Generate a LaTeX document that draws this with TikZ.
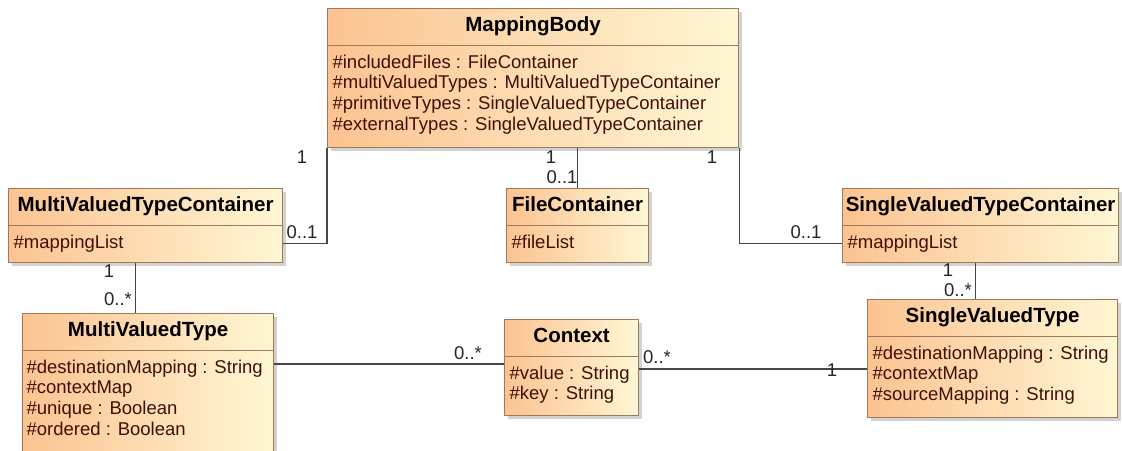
\documentclass[tikz,border=0pt]{standalone}
\usepackage{fontspec}
\setmainfont{Liberation Sans}
\usetikzlibrary{shadows,positioning}

\definecolor{clsorange}{RGB}{252,195,145}
\definecolor{clspale}{RGB}{255,247,212}
\definecolor{clsborder}{RGB}{160,120,90}
\definecolor{attrtext}{RGB}{64,16,8}
\definecolor{linkgray}{RGB}{70,70,70}

\begin{document}
\begin{tikzpicture}[x=1pt,y=-1pt,
  cls/.style={draw=clsborder,line width=1.2pt,left color=clsorange,right color=clspale,
    drop shadow={shadow xshift=3pt,shadow yshift=-3pt,opacity=0.35},anchor=north west,inner sep=0pt},
  ttl/.style={anchor=north,minimum height=37pt,inner sep=0pt,text height=14pt,text depth=4pt,
    font=\fontsize{20.5}{22}\selectfont\bfseries},
  att/.style={anchor=north west,inner sep=0pt,align=left,text=attrtext,
    font=\fontsize{18.5}{20.7}\selectfont},
  mult/.style={inner sep=0pt,text=black!85,font=\fontsize{18.5}{20.7}\selectfont},
  sep/.style={draw=clsborder,line width=1.2pt},
  link/.style={draw=linkgray,line width=1.3pt}]
\fill[white] (0,0) rectangle (1122,450);
\clip (0,0) rectangle (1122,450);
\useasboundingbox (0,0) rectangle (1122,450);

% classes
\node[cls,minimum width=411pt,minimum height=139pt] (MB) at (327,8) {};
\node[ttl,minimum width=411pt] (MBt) at (MB.north) {MappingBody};
\draw[sep] (MBt.south west) -- (MBt.south east);
\node[att] (MBa) at ([xshift=5pt,yshift=-9pt]MBt.south west) {\#includedFiles : FileContainer\\
  \#multiValuedTypes : MultiValuedTypeContainer\\
  \#primitiveTypes : SingleValuedTypeContainer\\
  \#externalTypes : SingleValuedTypeContainer};

\node[cls,minimum width=274pt,minimum height=74pt] (MVTC) at (8,188) {};
\node[ttl,minimum width=274pt] (MVTCt) at (MVTC.north) {MultiValuedTypeContainer};
\draw[sep] (MVTCt.south west) -- (MVTCt.south east);
\node[att] (MVTCa) at ([xshift=5pt,yshift=-9pt]MVTCt.south west) {\#mappingList};

\node[cls,minimum width=142pt,minimum height=74pt] (FC) at (506,188) {};
\node[ttl,minimum width=142pt] (FCt) at (FC.north) {FileContainer};
\draw[sep] (FCt.south west) -- (FCt.south east);
\node[att] (FCa) at ([xshift=5pt,yshift=-9pt]FCt.south west) {\#fileList};

\node[cls,minimum width=276pt,minimum height=74pt] (SVTC) at (842,188) {};
\node[ttl,minimum width=276pt] (SVTCt) at (SVTC.north) {SingleValuedTypeContainer};
\draw[sep] (SVTCt.south west) -- (SVTCt.south east);
\node[att] (SVTCa) at ([xshift=5pt,yshift=-9pt]SVTCt.south west) {\#mappingList};

\node[cls,minimum width=251pt,minimum height=147pt] (MVT) at (22,313) {};
\node[ttl,minimum width=251pt] (MVTt) at (MVT.north) {MultiValuedType};
\draw[sep] (MVTt.south west) -- (MVTt.south east);
\node[att] (MVTa) at ([xshift=4pt,yshift=-9pt]MVTt.south west) {\#destinationMapping : String\\
  \#contextMap\\
  \#unique : Boolean\\
  \#ordered : Boolean};

\node[cls,minimum width=134pt,minimum height=96pt] (CTX) at (504,319) {};
\node[ttl,minimum width=134pt] (CTXt) at (CTX.north) {Context};
\draw[sep] (CTXt.south west) -- (CTXt.south east);
\node[att] (CTXa) at ([xshift=5pt,yshift=-9pt]CTXt.south west) {\#value : String\\
  \#key : String};

\node[cls,minimum width=250pt,minimum height=118pt] (SVT) at (867,299) {};
\node[ttl,minimum width=250pt] (SVTt) at (SVT.north) {SingleValuedType};
\draw[sep] (SVTt.south west) -- (SVTt.south east);
\node[att] (SVTa) at ([xshift=5pt,yshift=-9pt]SVTt.south west) {\#destinationMapping : String\\
  \#contextMap\\
  \#sourceMapping : String};

% associations
\coordinate (MVTCd) at ([xshift=-10pt]MVTC.south);
\coordinate (SVTCd) at ([xshift=-5pt]SVTC.south);
\draw[link] (MB.south west) |- (MVTC.east |- MVTCa.west);
\draw[link] (FC.north |- MB.south) -- (FC.north);
\draw[link] (MB.south east) |- (SVTC.west |- SVTCa.west);
\draw[link] (MVTCd) -- (MVTCd |- MVT.north);
\draw[link] (SVTCd) -- (SVTCd |- SVT.north);
\draw[link] (MVT.east |- 0,364) -- (CTX.west |- 0,364);
\draw[link] (CTX.east |- 0,369) -- (SVT.west |- 0,369);

% multiplicities
\node[mult] (m1) at (302,157) {1};
\node[mult] (m2) at (302,232) {0..1};
\node[mult] (m3) at (551,157) {1};
\node[mult] (m4) at (562,177) {0..1};
\node[mult] (m5) at (712,157) {1};
\node[mult] (m6) at (806,232) {0..1};
\node[mult] (m7) at (109,271) {1};
\node[mult] (m8) at (118,299) {0..*};
\node[mult] (m9) at (948,270) {1};
\node[mult] (m10) at (958,290) {0..*};
\node[mult] (m11) at (468,353) {0..*};
\node[mult] (m12) at (657,357) {0..*};
\node[mult] (m13) at (832,370) {1};
\end{tikzpicture}
\end{document}
